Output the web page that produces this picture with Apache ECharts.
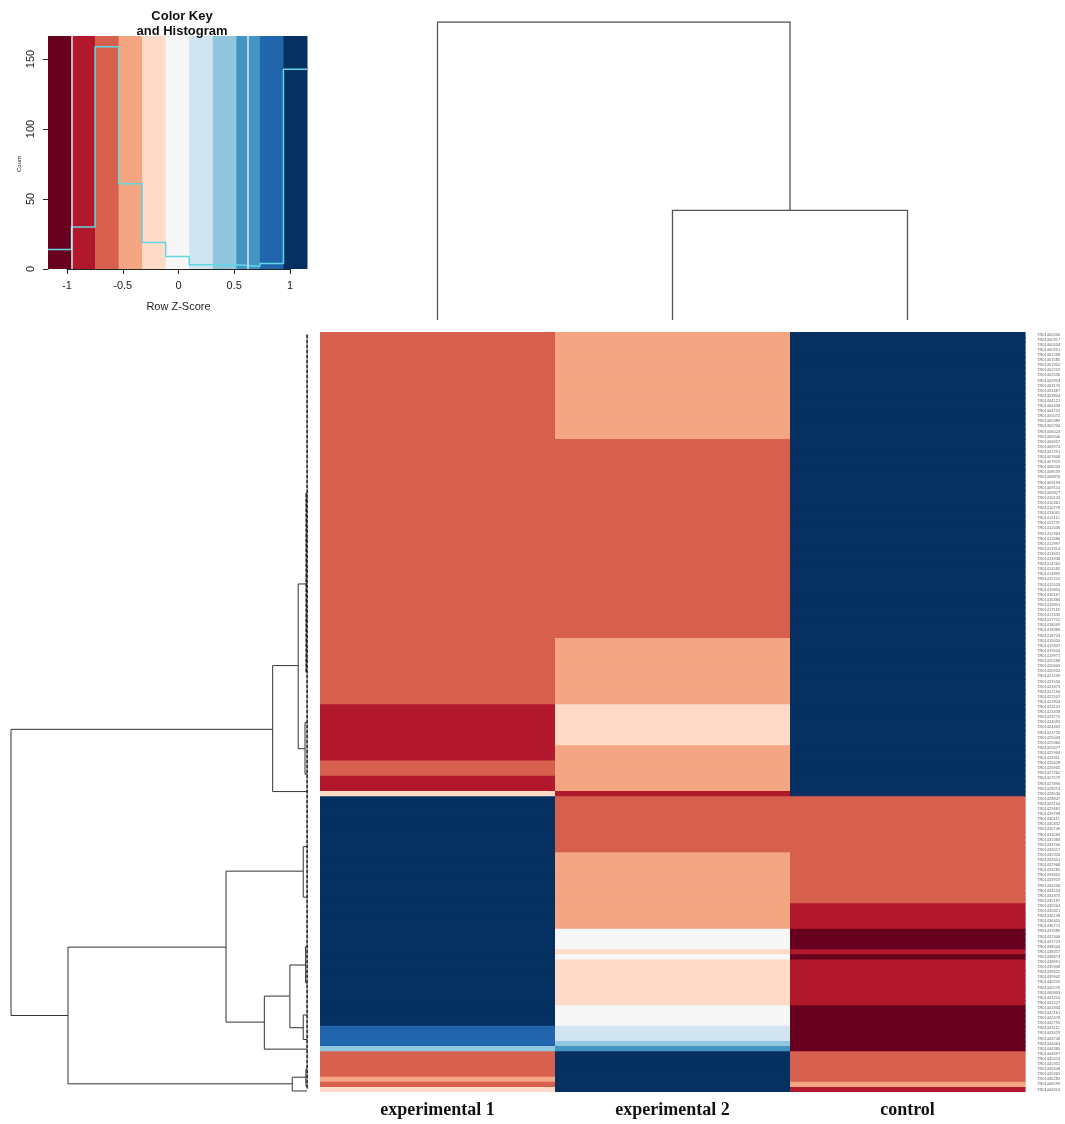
<!DOCTYPE html>
<html>
<head>
<meta charset="utf-8">
<script src="https://cdn.jsdelivr.net/npm/echarts@6/dist/echarts.min.js"></script>
<style>
html,body{margin:0;padding:0;background:#fff}
#main{width:1065px;height:1124px}
</style>
</head>
<body>
<div id="main"></div>
<script>
var samples = ['experimental 1', 'experimental 2', 'control'];

// row z-scores, as runs of [number of rows, z], top to bottom
var exp1Runs = [[73, -0.63], [11, -0.84], [3, -0.63], [3, -0.84], [1, -0.21],
  [45, 1.05], [4, 0.84], [1, 0.42], [5, -0.63], [1, -0.42], [1, -0.63], [1, -0.21]];
var exp2Runs = [[21, -0.42], [39, -0.63], [13, -0.42], [8, -0.21], [9, -0.42], [1, -0.84],
  [11, -0.63], [15, -0.42], [4, 0], [1, -0.21], [1, 0], [9, -0.21], [4, 0], [3, 0.21], [1, 0.42], [1, 0.63], [8, 1.05]];
var controlRuns = [[91, 1.05],
  [21, -0.63], [5, -0.84], [4, -1.05], [1, -0.84], [1, -1.05], [9, -0.84], [9, -1.05], [6, -0.63], [1, -0.42], [1, -0.84]];

// colour key + histogram
var keyBreaks = [-1.155, -0.945, -0.735, -0.525, -0.315, -0.105, 0.105, 0.315, 0.525, 0.735, 0.945, 1.155];
var keyColors = ['#67001F', '#B2182B', '#D6604D', '#F4A582', '#FDDBC7', '#F7F7F7',
  '#D1E5F0', '#92C5DE', '#4393C3', '#2166AC', '#053061'];
var histCounts = [14, 30, 159, 61, 19, 9, 3, 3, 2, 4, 143];
var keyLines = [-0.94, 0.63];

// dendrograms: [height, pos1, height1, pos2, height2]
var colMerges = [[36.8, 1.5, 0, 2.5, 0], [100, 0.5, 0, 2.0, 36.8]];
var rowMerges = [
  [100, 77.9, 11.9, 134.0, 80.8],
  [11.9, 65.4, 3.3, 90.1, 0.3],
  [3.3, 49.4, 0.3, 81.7, 1.0],
  [1.0, 76.6, 0.3, 86.7, 0.3],
  [80.8, 120.6, 27.6, 147.4, 5.3],
  [27.6, 105.7, 1.6, 135.3, 14.7],
  [1.6, 100.9, 0.3, 110.8, 0.3],
  [14.7, 130.2, 6.1, 140.6, 0.3],
  [6.1, 124.1, 0.8, 136.4, 1.6],
  [0.8, 120.5, 0.3, 127.6, 0.3],
  [1.6, 133.9, 0.3, 138.7, 0.3],
  [5.3, 146.1, 0.7, 148.8, 0.3],
  [0.7, 144.5, 0.3, 147.8, 0.3]
];
// dense leaf merges near zero height: [height, from, to]
var rowLeafCombs = [[0.3, 0.5, 148.5], [0.6, 31.6, 66.9]];

function expand(runs) {
  var out = [];
  runs.forEach(function (r) { for (var k = 0; k < r[0]; k++) out.push(r[1]); });
  return out;
}
var cols = [expand(exp1Runs), expand(exp2Runs), expand(controlRuns)];
var nRows = cols[0].length;
var rowIds = [];
for (var i = 0; i < nRows; i++) rowIds.push('TR0' + (1400000 + i * 317));
var cells = [];
cols.forEach(function (col, c) {
  col.forEach(function (v, r) { cells.push([c, r, v]); });
});

var pieces = keyColors.map(function (c, i) {
  return { gte: keyBreaks[i], lt: keyBreaks[i + 1], color: c };
});
var bands = keyColors.map(function (c, i) { return [keyBreaks[i], keyBreaks[i + 1], i]; });
var histLine = histCounts.map(function (c, i) { return [keyBreaks[i], c]; });
histLine.push([keyBreaks[keyBreaks.length - 1], histCounts[histCounts.length - 1]]);

var colLines = colMerges.map(function (m) {
  return { coords: [[m[1], m[2]], [m[1], m[0]], [m[3], m[0]], [m[3], m[4]]] };
});
var rowLines = rowMerges.map(function (m) {
  return { coords: [[m[2], m[1]], [m[0], m[1]], [m[0], m[3]], [m[4], m[3]]] };
});
var combLines = rowLeafCombs.map(function (m) {
  return { coords: [[m[0], m[1]], [m[0], m[2]]] };
});

var keyFont = 'Liberation Sans';
var myChart = echarts.init(document.getElementById('main'));
var option = {
  animation: false,
  backgroundColor: '#fff',
  title: {
    text: 'Color Key\nand Histogram',
    left: 177, top: 4, textAlign: 'center',
    textStyle: { fontSize: 13, fontWeight: 'bold', fontFamily: keyFont, lineHeight: 15, color: '#111' }
  },
  grid: [
    { left: 48, top: 36, width: 259, height: 233 },     // key
    { left: 320, top: 22, width: 705, height: 298 },    // column dendrogram
    { left: 11, top: 332, width: 297, height: 760 },    // row dendrogram
    { left: 320, top: 332, width: 705, height: 760 },   // heatmap
    { left: 67, top: 36, width: 223, height: 233 },     // key x axis
    { left: 48, top: 59, width: 259, height: 210 }      // key y axis
  ],
  xAxis: [
    { gridIndex: 0, type: 'value', min: -1.155, max: 1.155, show: false },
    { gridIndex: 1, type: 'value', min: 0, max: 3, show: false },
    { gridIndex: 2, type: 'value', min: 0, max: 100, inverse: true, show: false },
    {
      gridIndex: 3, type: 'category', data: samples, position: 'bottom',
      axisLine: { show: false }, axisTick: { show: false },
      axisLabel: { margin: 9, fontSize: 18, fontWeight: 'bold', fontFamily: 'Liberation Serif', color: '#111' }
    },
    {
      gridIndex: 4, type: 'value', min: -1, max: 1, interval: 0.5, offset: 4,
      axisLine: { show: true, lineStyle: { color: '#222' } },
      axisTick: { show: true, length: 5, lineStyle: { color: '#222' } },
      axisLabel: { margin: 7, fontSize: 11, fontFamily: keyFont, color: '#222' },
      splitLine: { show: false },
      name: 'Row Z-Score', nameLocation: 'middle', nameGap: 28,
      nameTextStyle: { fontSize: 11, fontFamily: keyFont, color: '#222' }
    },
    { gridIndex: 5, type: 'value', show: false }
  ],
  yAxis: [
    { gridIndex: 0, type: 'value', min: 0, max: 166.7, show: false },
    { gridIndex: 1, type: 'value', min: 0, max: 100, show: false },
    { gridIndex: 2, type: 'value', min: 0, max: nRows, inverse: true, show: false },
    {
      gridIndex: 3, type: 'category', data: rowIds, inverse: true, position: 'right',
      axisLine: { show: false }, axisTick: { show: false },
      axisLabel: { interval: 0, margin: 12, fontSize: 4, color: '#666', fontFamily: keyFont }
    },
    { gridIndex: 4, type: 'value', show: false },
    {
      gridIndex: 5, type: 'value', min: 0, max: 150, interval: 50, offset: 5,
      axisLine: { show: true, lineStyle: { color: '#222' } },
      axisTick: { show: true, length: 5, lineStyle: { color: '#222' } },
      axisLabel: { rotate: 90, margin: 7, fontSize: 11, fontFamily: keyFont, color: '#222' },
      splitLine: { show: false },
      name: 'Count', nameLocation: 'middle', nameGap: 21,
      nameTextStyle: { fontSize: 6, fontFamily: keyFont, color: '#222' }
    }
  ],
  visualMap: {
    type: 'piecewise', show: false, seriesIndex: 3, dimension: 2, pieces: pieces
  },
  series: [
    {
      type: 'custom', xAxisIndex: 0, yAxisIndex: 0, data: bands, silent: true,
      encode: { x: [0, 1] },
      renderItem: function (params, api) {
        var p0 = api.coord([api.value(0), 166.7]);
        var p1 = api.coord([api.value(1), 0]);
        return {
          type: 'rect',
          shape: { x: p0[0], y: p0[1], width: p1[0] - p0[0] + 0.5, height: p1[1] - p0[1] },
          style: { fill: keyColors[api.value(2)] }
        };
      }
    },
    {
      type: 'line', xAxisIndex: 0, yAxisIndex: 0, data: histLine, step: 'end',
      symbol: 'none', silent: true,
      lineStyle: { color: '#5fd8e2', width: 1.5 },
      markLine: {
        silent: true, symbol: 'none', label: { show: false },
        lineStyle: { color: '#dbe8ec', width: 1.5, type: 'solid' },
        data: keyLines.map(function (v) { return { xAxis: v }; })
      }
    },
    {
      type: 'lines', coordinateSystem: 'cartesian2d', polyline: true,
      xAxisIndex: 1, yAxisIndex: 1, data: colLines, silent: true,
      lineStyle: { color: '#555', width: 1.3, opacity: 1 }
    },
    {
      // heatmap cells, drawn slightly overlapped so no seams show
      type: 'custom', xAxisIndex: 3, yAxisIndex: 3, data: cells, silent: true,
      encode: { x: 0, y: 1 },
      renderItem: function (params, api) {
        var c = api.coord([api.value(0), api.value(1)]);
        var s = api.size([1, 1]);
        var last = api.value(1) === nRows - 1;
        return {
          type: 'rect',
          shape: { x: c[0] - s[0] / 2, y: c[1] - s[1] / 2, width: s[0] + 0.6, height: s[1] + (last ? 0 : 0.8) },
          style: { fill: api.visual('color') }
        };
      }
    },
    {
      type: 'lines', coordinateSystem: 'cartesian2d', polyline: true,
      xAxisIndex: 2, yAxisIndex: 2, data: rowLines, silent: true,
      lineStyle: { color: '#333', width: 1, opacity: 1 }
    },
    {
      type: 'lines', coordinateSystem: 'cartesian2d', polyline: true,
      xAxisIndex: 2, yAxisIndex: 2, data: combLines, silent: true,
      lineStyle: { color: '#222', width: 1.6, opacity: 1, type: [4, 1] }
    }
  ]
};
myChart.setOption(option);
window.addEventListener('resize', function () {
  myChart.resize();
}, false);
</script>
</body>
</html>
